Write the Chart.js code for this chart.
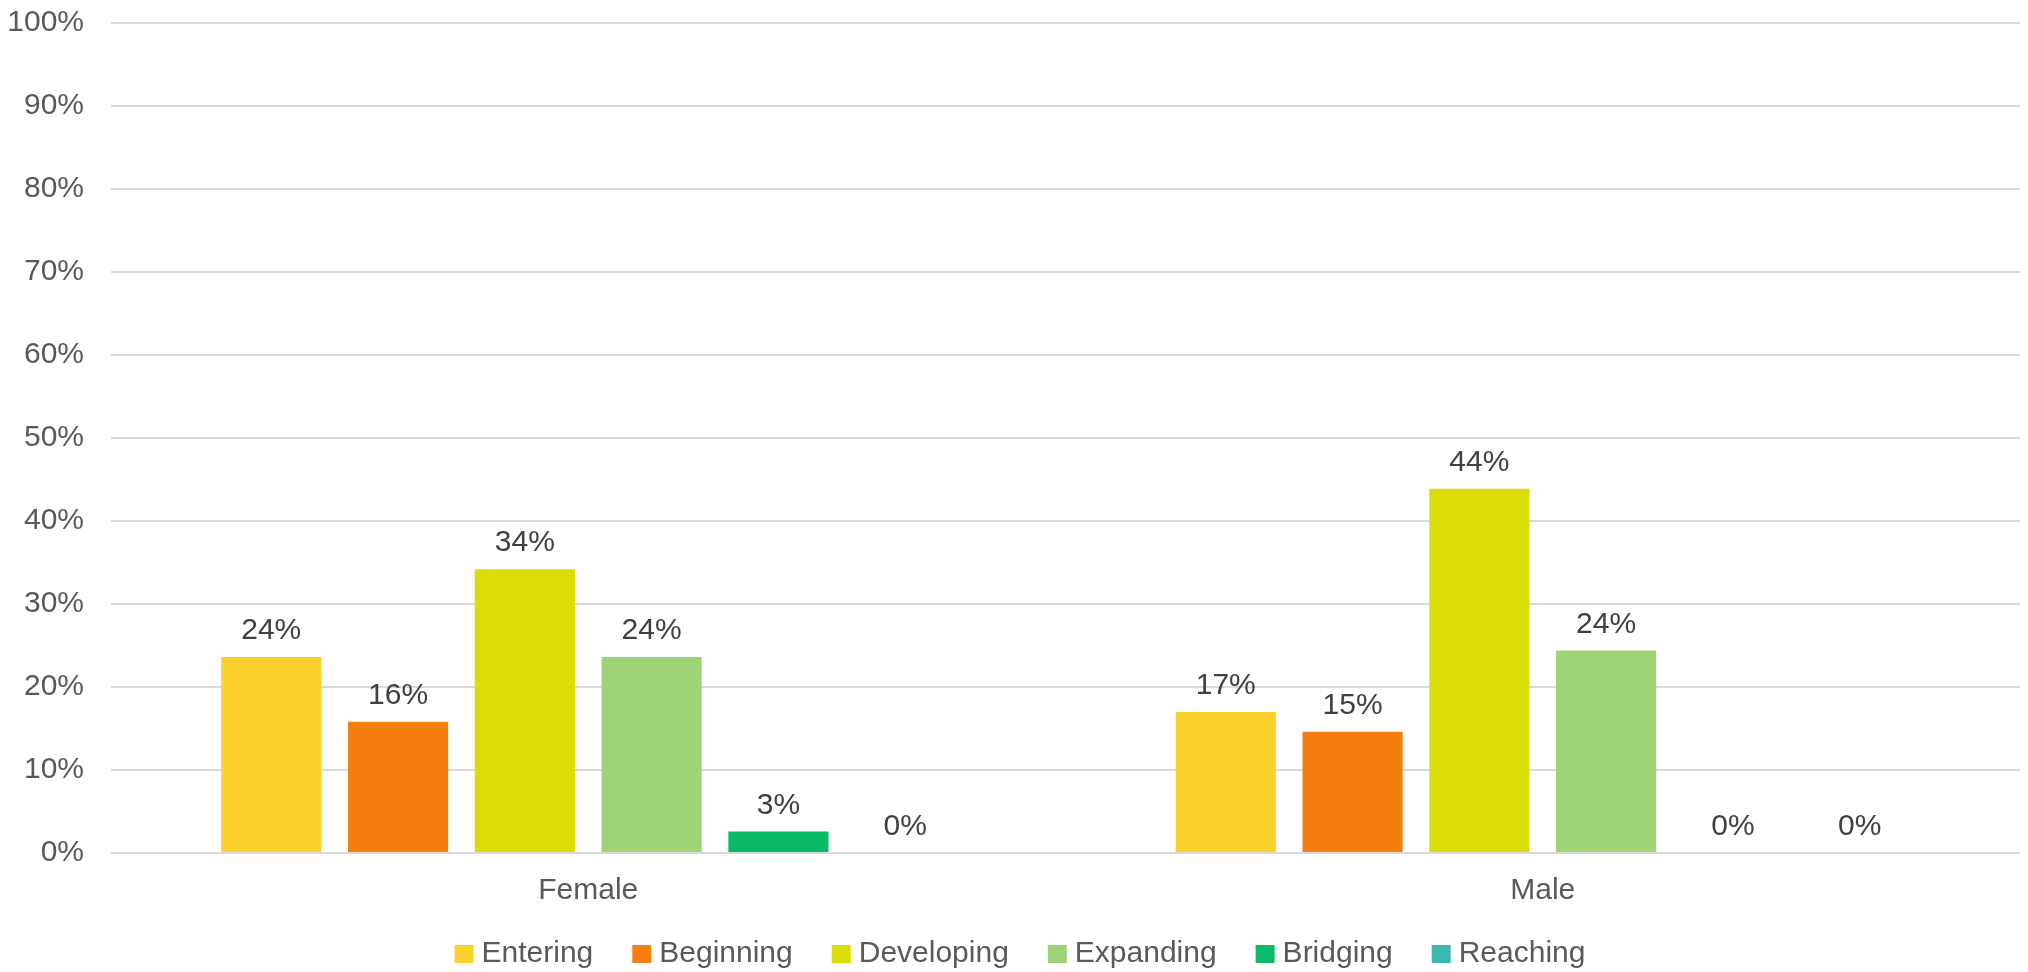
<!DOCTYPE html>
<html>
<head>
<meta charset="utf-8">
<script src="https://cdn.jsdelivr.net/npm/chart.js@4.4.0/dist/chart.umd.min.js"></script>
<style>
  html, body { margin: 0; padding: 0; background: #fff; }
  #wrap { width: 2028px; height: 972px; }
</style>
</head>
<body>
<div id="wrap"><canvas id="myChart" width="2028" height="972"></canvas></div>
<script>
const categories = ["Female", "Male"];
const levels = ["Entering", "Beginning", "Developing", "Expanding", "Bridging", "Reaching"];
const levelColors = ["#FDD12B", "#F47F10", "#DCDC06", "#9FD476", "#0BBA68", "#3CB6B0"];
// one array per level: [Female, Male]
const entering = [23.6, 17.0];
const beginning = [15.8, 14.6];
const developing = [34.2, 43.9];
const expanding = [23.6, 24.4];
const bridging = [2.6, 0];
const reaching = [0, 0];
const yTicks = [0, 10, 20, 30, 40, 50, 60, 70, 80, 90, 100];

const seriesValues = [entering, beginning, developing, expanding, bridging, reaching];
const FONT = '"Liberation Sans", Arial, sans-serif';

// percent labels above each bar
const valueLabels = {
  id: 'valueLabels',
  afterDatasetsDraw(chart) {
    const ctx = chart.ctx;
    ctx.save();
    ctx.font = '30px ' + FONT;
    ctx.fillStyle = '#404040';
    ctx.textAlign = 'center';
    ctx.textBaseline = 'middle';
    chart.data.datasets.forEach(function (ds, i) {
      chart.getDatasetMeta(i).data.forEach(function (bar, j) {
        ctx.fillText(Math.round(ds.data[j]) + '%', bar.x, bar.y - 26);
      });
    });
    ctx.restore();
  }
};

// legend drawn like the office one: small square, tight gap, wide spacing
const bottomLegend = {
  id: 'bottomLegend',
  afterDraw(chart) {
    const ctx = chart.ctx;
    const box = 19, gap = 8, spacing = 39, cy = 954;
    ctx.save();
    ctx.font = '30px ' + FONT;
    ctx.textBaseline = 'middle';
    const widths = chart.data.datasets.map(ds => ctx.measureText(ds.label).width);
    let total = widths.reduce((a, b) => a + b, 0) + widths.length * (box + gap) + spacing * (widths.length - 1);
    let x = chart.width / 2 + 6 - total / 2;
    chart.data.datasets.forEach(function (ds, i) {
      ctx.fillStyle = ds.backgroundColor;
      ctx.fillRect(x, cy - 9, box, 18);
      ctx.fillStyle = '#595959';
      ctx.fillText(ds.label, x + box + gap, cy);
      x += box + gap + widths[i] + spacing;
    });
    ctx.restore();
  }
};

new Chart("myChart", {
  type: "bar",
  data: {
    labels: categories,
    datasets: levels.map(function (name, i) {
      return {
        label: name,
        data: seriesValues[i],
        backgroundColor: levelColors[i],
        categoryPercentage: 0.797,
        barPercentage: 0.79
      };
    })
  },
  options: {
    responsive: false,
    animation: false,
    layout: { padding: { left: 8, right: 8, top: 23, bottom: 0 } },
    plugins: {
      legend: { display: false },
      tooltip: { enabled: false }
    },
    scales: {
      x: {
        grid: { display: false },
        border: { display: false },
        ticks: {
          color: '#595959',
          padding: 12,
          font: { family: FONT, size: 30 }
        },
        afterFit: function (axis) {
          axis.height = 119;
          axis.paddingLeft = 0;
          axis.paddingRight = 0;
        }
      },
      y: {
        min: 0,
        max: 100,
        afterBuildTicks: function (axis) {
          axis.ticks = yTicks.map(v => ({ value: v }));
        },
        grid: { color: '#D9D9D9', lineWidth: 2, drawTicks: false },
        border: { display: false },
        ticks: {
          color: '#595959',
          padding: 27,
          font: { family: FONT, size: 30 },
          callback: function (v) { return v + '%'; }
        },
        afterFit: function (axis) {
          axis.width = 103;
          axis.paddingTop = 0;
          axis.paddingBottom = 0;
        }
      }
    }
  },
  plugins: [valueLabels, bottomLegend]
});
</script>
</body>
</html>
